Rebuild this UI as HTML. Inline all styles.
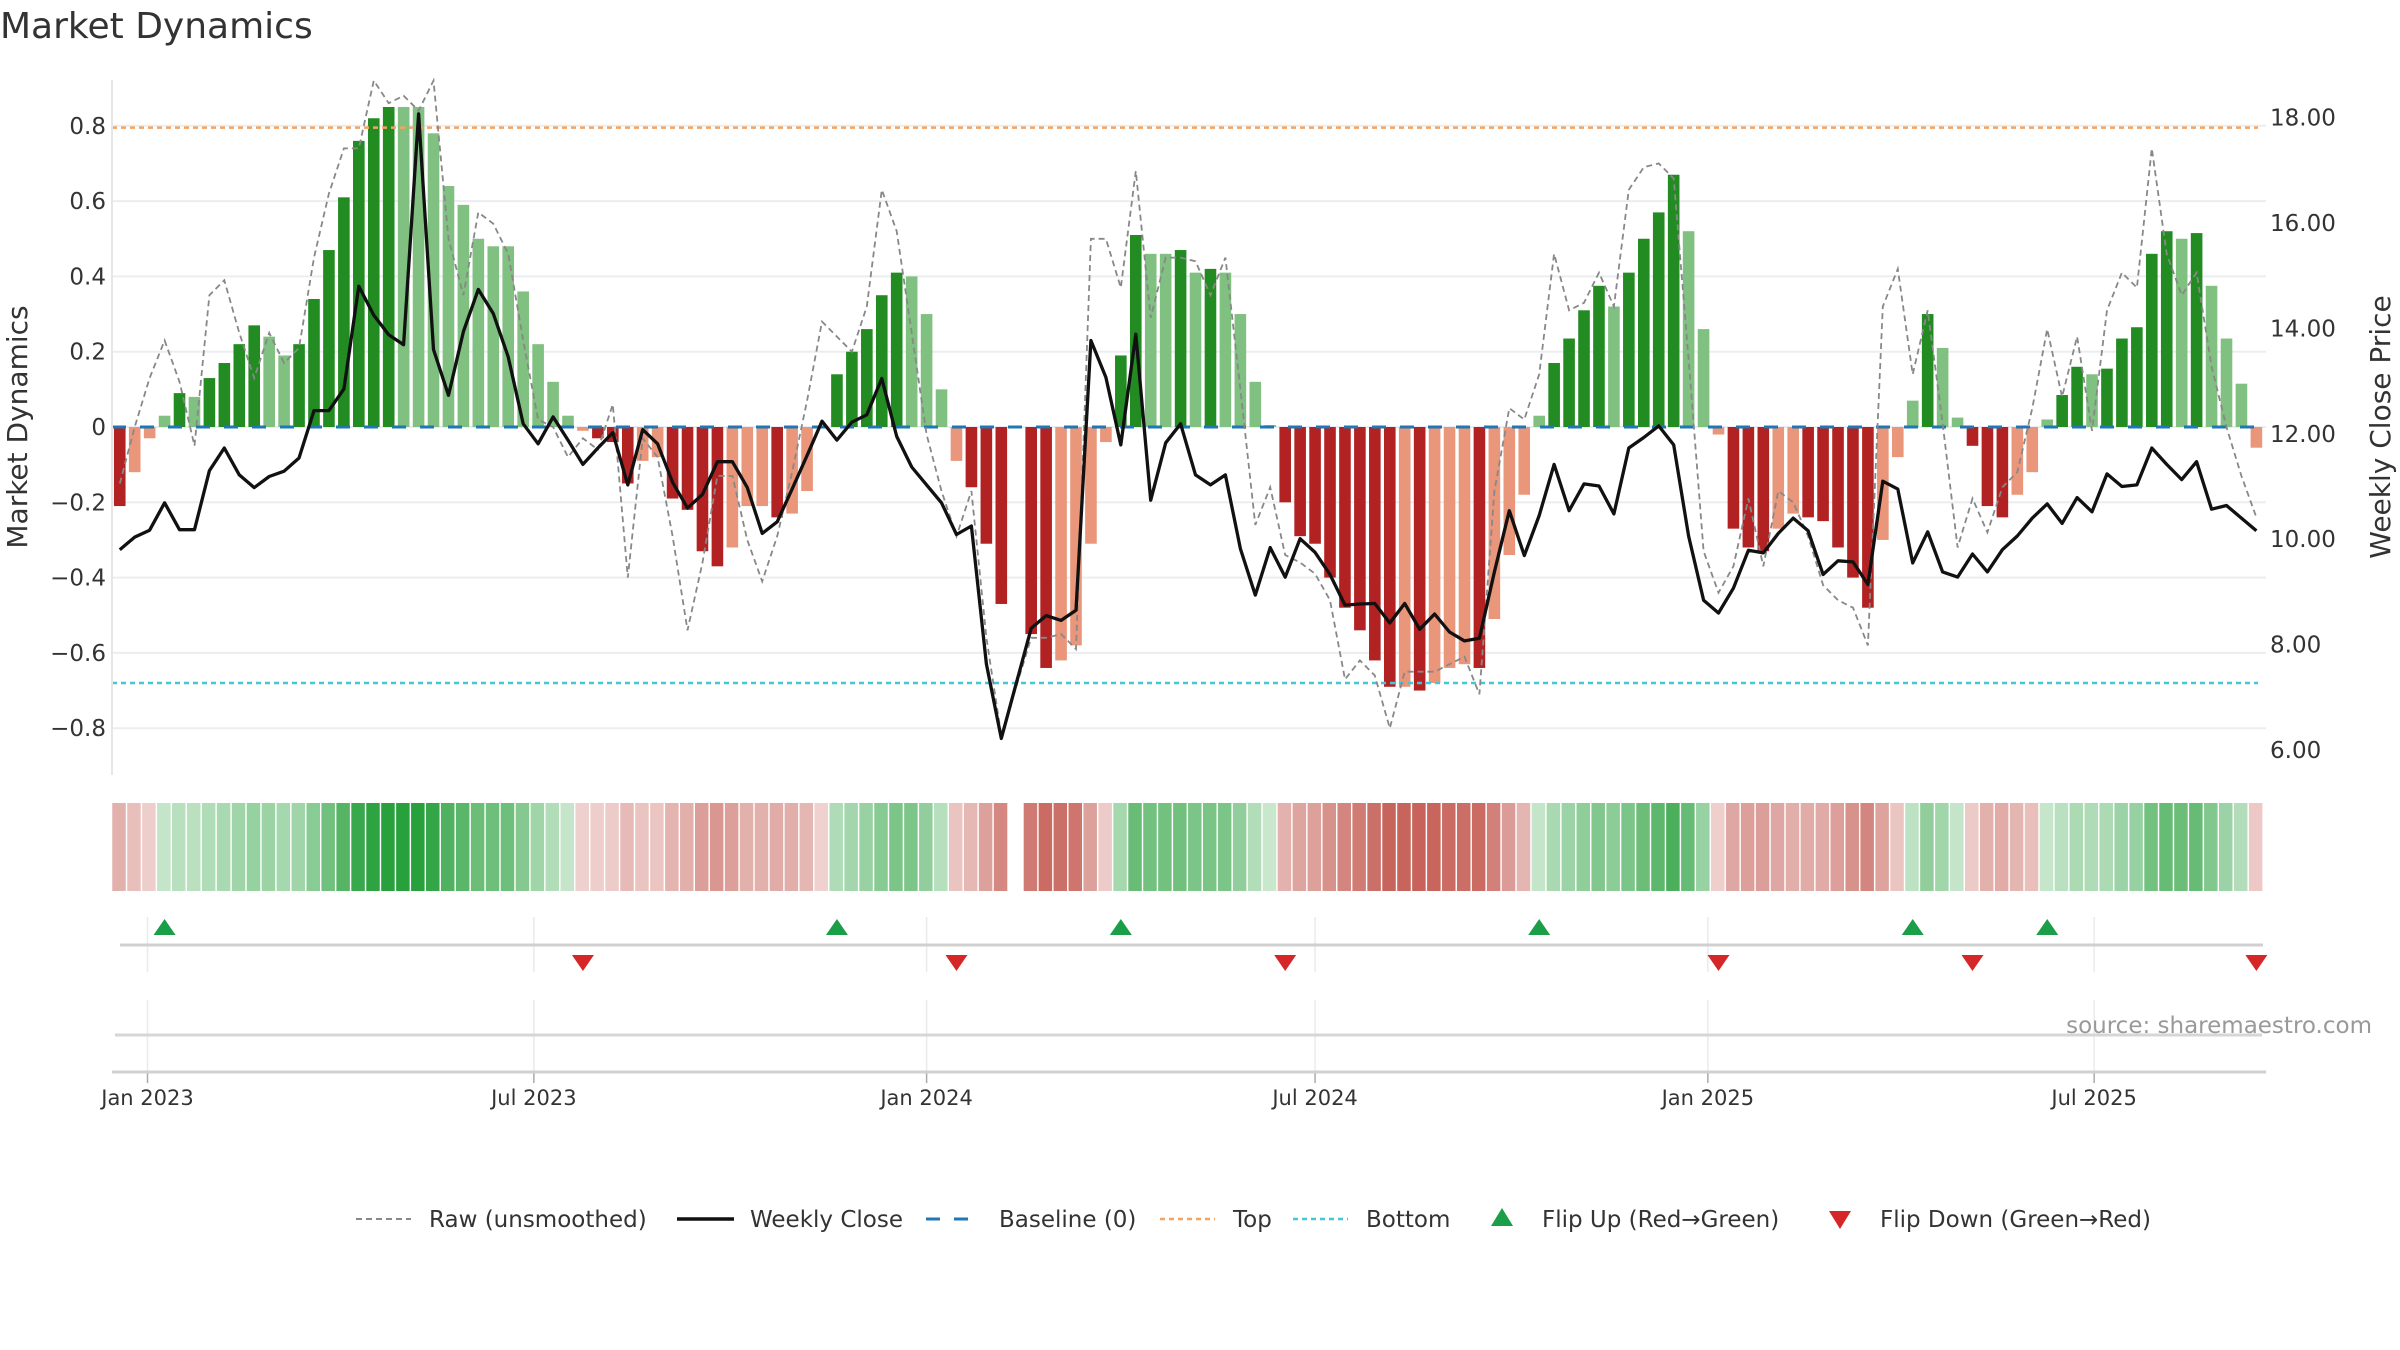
<!DOCTYPE html>
<html><head><meta charset="utf-8"><style>
html,body{margin:0;padding:0;background:#fff;}
svg{display:block;font-family:"DejaVu Sans","Liberation Sans",sans-serif;}
</style></head><body>
<svg id="chart" width="2400" height="1350" viewBox="0 0 2400 1350" xmlns="http://www.w3.org/2000/svg">
<text x="0" y="38" font-size="36" fill="#333">Market Dynamics</text>
<g id="grid"></g><g id="main"></g><g id="heat"></g><g id="flips"></g><g id="axes"></g><g id="legend"></g>
<text x="2372" y="1033" font-size="23" fill="#999" text-anchor="end">source: sharemaestro.com</text>
</svg>
<script>
const momentum=[-0.21,-0.12,-0.03,0.03,0.09,0.08,0.13,0.17,0.22,0.27,0.24,0.19,0.22,0.34,0.47,0.61,0.76,0.82,0.85,0.85,0.85,0.78,0.64,0.59,0.50,0.48,0.48,0.36,0.22,0.12,0.03,-0.01,-0.03,-0.04,-0.15,-0.09,-0.08,-0.19,-0.22,-0.33,-0.37,-0.32,-0.21,-0.21,-0.24,-0.23,-0.17,0,0.14,0.20,0.26,0.35,0.41,0.40,0.30,0.10,-0.09,-0.16,-0.31,-0.47,null,-0.55,-0.64,-0.62,-0.58,-0.31,-0.04,0.19,0.51,0.46,0.46,0.47,0.41,0.42,0.41,0.30,0.12,0.005,-0.20,-0.29,-0.31,-0.40,-0.48,-0.54,-0.62,-0.69,-0.69,-0.70,-0.68,-0.64,-0.63,-0.64,-0.51,-0.34,-0.18,0.03,0.17,0.235,0.31,0.375,0.32,0.41,0.50,0.57,0.67,0.52,0.26,-0.02,-0.27,-0.32,-0.33,-0.27,-0.23,-0.24,-0.25,-0.32,-0.40,-0.48,-0.30,-0.08,0.07,0.30,0.21,0.025,-0.05,-0.21,-0.24,-0.18,-0.12,0.02,0.085,0.16,0.14,0.155,0.235,0.265,0.46,0.52,0.50,0.515,0.375,0.235,0.115,-0.055];
const rawValues=[-0.15,0.0,0.13,0.23,0.12,-0.05,0.35,0.39,0.25,0.13,0.25,0.17,0.21,0.45,0.62,0.74,0.74,0.92,0.86,0.88,0.84,0.92,0.5,0.35,0.57,0.54,0.46,0.23,0.02,0.0,-0.08,-0.03,-0.06,0.06,-0.40,-0.03,-0.08,-0.29,-0.54,-0.36,-0.13,-0.13,-0.30,-0.41,-0.29,-0.12,0.07,0.28,0.24,0.2,0.32,0.63,0.52,0.25,-0.02,-0.17,-0.29,-0.17,-0.56,-0.82,null,-0.56,-0.56,-0.55,-0.59,0.50,0.50,0.37,0.68,0.29,0.45,0.45,0.44,0.35,0.45,0.1,-0.26,-0.16,-0.34,-0.36,-0.39,-0.46,-0.67,-0.62,-0.66,-0.80,-0.65,-0.65,-0.65,-0.63,-0.61,-0.71,-0.17,0.05,0.02,0.14,0.46,0.31,0.33,0.41,0.32,0.63,0.69,0.70,0.66,0.18,-0.33,-0.44,-0.37,-0.19,-0.37,-0.17,-0.20,-0.29,-0.42,-0.46,-0.48,-0.58,0.32,0.42,0.14,0.31,0.01,-0.32,-0.19,-0.28,-0.16,-0.12,0.05,0.26,0.08,0.24,-0.01,0.31,0.41,0.37,0.74,0.46,0.35,0.41,0.16,0.0,-0.13,-0.24];
const closePrices=[9.80,10.04,10.17,10.69,10.18,10.18,11.30,11.73,11.22,10.98,11.19,11.29,11.54,12.44,12.44,12.85,14.80,14.25,13.88,13.69,18.07,13.60,12.73,13.94,14.74,14.28,13.46,12.19,11.81,12.32,11.88,11.42,11.73,12.02,11.03,12.08,11.81,11.08,10.59,10.85,11.47,11.47,10.98,10.11,10.33,10.95,11.59,12.24,11.88,12.22,12.36,13.05,11.95,11.37,11.03,10.69,10.09,10.25,7.63,6.22,null,8.31,8.55,8.46,8.65,13.77,13.07,11.79,13.89,10.74,11.83,12.19,11.22,11.03,11.22,9.82,8.94,9.84,9.28,10.01,9.75,9.33,8.75,8.77,8.78,8.41,8.78,8.29,8.58,8.24,8.07,8.12,9.38,10.54,9.69,10.45,11.42,10.54,11.05,11.01,10.48,11.73,11.93,12.15,11.79,10.06,8.84,8.60,9.07,9.79,9.74,10.11,10.40,10.16,9.33,9.59,9.57,9.14,11.10,10.95,9.55,10.14,9.38,9.28,9.72,9.38,9.80,10.06,10.40,10.67,10.30,10.79,10.52,11.24,11.00,11.03,11.73,11.42,11.13,11.47,10.57,10.64,10.40,10.16];
const leftTicks=[-0.8,-0.6,-0.4,-0.2,0,0.2,0.4,0.6,0.8];
const rightTicks=[6,8,10,12,14,16,18];
const dateTicks=[["Jan 2023","2023-01-01"],["Jul 2023","2023-07-01"],["Jan 2024","2024-01-01"],["Jul 2024","2024-07-01"],["Jan 2025","2025-01-01"],["Jul 2025","2025-07-01"]];
const startDate="2022-12-19";
const topLevel=0.795, bottomLevel=-0.68;

const NS="http://www.w3.org/2000/svg";
function mk(tag,attrs,parent){const e=document.createElementNS(NS,tag);for(const k in attrs)e.setAttribute(k,attrs[k]);parent.appendChild(e);return e;}
const day0=Date.UTC(2023,0,1);
const PXD=2.1345;
function xDate(s){const p=s.split('-');return 147.5+(Date.UTC(+p[0],+p[1]-1,+p[2])-day0)/86400000*PXD;}
const s0=xDate(startDate);
function xi(i){return s0+i*7*PXD;}
function yL(v){return 427-v*376.5;}
function yR(p){return 117.6+(18-p)*52.7;}
const X0=112,X1=2266;
const grid=document.getElementById('grid'),main=document.getElementById('main'),heat=document.getElementById('heat'),flips=document.getElementById('flips'),axes=document.getElementById('axes'),legend=document.getElementById('legend');

leftTicks.forEach(t=>{
  const l=mk('line',{x1:X0,x2:X1,y1:yL(t),y2:yL(t),stroke:'#ebedf0','stroke-width':2},grid);
  
  
  const tx=mk('text',{x:106,y:yL(t)+8,'font-size':23,fill:'#333','text-anchor':'end'},axes);
  tx.textContent=(t===0?'0':(t<0?'\u2212':'')+Math.abs(t).toFixed(1));
  
  
});
rightTicks.forEach(t=>{
  const tx=mk('text',{x:2270,y:yR(t)+8,'font-size':23,fill:'#333'},axes);
  tx.textContent=t.toFixed(2);
  
  
});
const sp=mk('line',{x1:X0,x2:X0,y1:80,y2:775,stroke:'#e6e6e6','stroke-width':2},axes);


const yt=mk('text',{x:0,y:0,'font-size':28,fill:'#333','text-anchor':'middle',transform:'translate(27,427) rotate(-90)'},axes);
yt.textContent='Market Dynamics';


const yt2=mk('text',{x:0,y:0,'font-size':28,fill:'#333','text-anchor':'middle',transform:'translate(2390,427) rotate(-90)'},axes);
yt2.textContent='Weekly Close Price';



momentum.forEach((v,i)=>{
  if(v===null)return;
  const prev=i>0&&momentum[i-1]!==null?momentum[i-1]:0;
  const strong=Math.abs(v)>Math.abs(prev);
  const col=v>=0?(strong?'#228b22':'#80c080'):(strong?'#b22222':'#e9967a');
  const y=Math.min(yL(v),yL(0)),h=Math.abs(yL(v)-yL(0));
  const r=mk('rect',{x:xi(i)-5.8,y:y,width:11.6,height:Math.max(h,0.5),fill:col},main);
  
  
});
const bl=mk('line',{x1:X0,x2:X1,y1:yL(0),y2:yL(0),stroke:'#1f77b4','stroke-width':3,'stroke-dasharray':'14 14'},main);


const tl=mk('line',{x1:X0,x2:X1-8,y1:yL(topLevel),y2:yL(topLevel),stroke:'#f4a460','stroke-width':2.5,'stroke-dasharray':'5 4'},main);


const btl=mk('line',{x1:X0,x2:X1-8,y1:yL(bottomLevel),y2:yL(bottomLevel),stroke:'#40c8d8','stroke-width':2.5,'stroke-dasharray':'5 4'},main);


function pathFrom(arr,yf){let d='',pen=false;arr.forEach((v,i)=>{if(v===null)return;d+=(pen?'L':'M')+xi(i).toFixed(1)+','+yf(v).toFixed(1);pen=true;});return d;}
const rp=mk('path',{d:pathFrom(rawValues,yL),fill:'none',stroke:'#888','stroke-width':1.8,'stroke-dasharray':'6 4'},main);


const cp=mk('path',{d:pathFrom(closePrices,yR),fill:'none',stroke:'#111','stroke-width':3.3,'stroke-linejoin':'round'},main);



momentum.forEach((v,i)=>{
  if(v===null)return;
  const a=0.25+0.75*Math.min(Math.abs(v)/0.85,1);
  const c=v>0?`rgba(40,160,60,${a})`:`rgba(190,75,65,${a})`;
  const r=mk('rect',{x:xi(i)-7.5,y:803,width:13.5,height:88,fill:c},heat);
  
  
});

dateTicks.forEach(([lab,d])=>{
  const x=xDate(d);
  const g1=mk('line',{x1:x,x2:x,y1:917,y2:972,stroke:'#e8eaee','stroke-width':1.5},flips);
  
  
  const g2=mk('line',{x1:x,x2:x,y1:1000,y2:1072,stroke:'#e8eaee','stroke-width':1.5},flips);
  
  
  const tk=mk('line',{x1:x,x2:x,y1:1072,y2:1083,stroke:'#aaa','stroke-width':1.5},axes);
  
  
  const t=mk('text',{x:x,y:1105,'font-size':21,fill:'#333','text-anchor':'middle'},axes);
  t.textContent=lab;
  
  
});
const fl=mk('line',{x1:120,x2:2263,y1:945,y2:945,stroke:'#d0d0d0','stroke-width':3},flips);


const pl=mk('line',{x1:115,x2:2262,y1:1035,y2:1035,stroke:'#d6d6d6','stroke-width':3},flips);


const xa=mk('line',{x1:112,x2:2266,y1:1072,y2:1072,stroke:'#d0d0d0','stroke-width':3},axes);


for(let i=1;i<momentum.length;i++){
  const v=momentum[i];let p=momentum[i-1];if(p===null)p=momentum[i-2];
  if(v===null||p===null)continue;
  const x=xi(i);
  if(p<=0&&v>0){
    const m=mk('polygon',{points:`${x},919 ${x-11},935 ${x+11},935`,fill:'#1a9e47'},flips);
    
    
  } else if(p>0&&v<=0){
    const m=mk('polygon',{points:`${x-11},955 ${x+11},955 ${x},971`,fill:'#d62728'},flips);
    
    
  }
}

const L=[['Raw (unsmoothed)','raw',356],['Weekly Close','close',677],['Baseline (0)','base',926],['Top','top',1160],['Bottom','bottom',1293],['Flip Up (Red\u2192Green)','up',1502],['Flip Down (Green\u2192Red)','down',1840]];
L.forEach(([lab,k,x])=>{
  const y=1219;let s;
  if(k==='raw')s=mk('line',{x1:x,x2:x+55,y1:y,y2:y,stroke:'#888','stroke-width':2,'stroke-dasharray':'6 4'},legend);
  if(k==='close')s=mk('line',{x1:x,x2:x+57,y1:y,y2:y,stroke:'#111','stroke-width':3.5},legend);
  if(k==='base')s=mk('line',{x1:x,x2:x+55,y1:y,y2:y,stroke:'#1f77b4','stroke-width':3,'stroke-dasharray':'14 14'},legend);
  if(k==='top')s=mk('line',{x1:x,x2:x+55,y1:y,y2:y,stroke:'#f4a460','stroke-width':2.5,'stroke-dasharray':'5 4'},legend);
  if(k==='bottom')s=mk('line',{x1:x,x2:x+55,y1:y,y2:y,stroke:'#40c8d8','stroke-width':2.5,'stroke-dasharray':'5 4'},legend);
  if(k==='up')s=mk('polygon',{points:`${x},${y-11} ${x-11},${y+7} ${x+11},${y+7}`,fill:'#1a9e47'},legend);
  if(k==='down')s=mk('polygon',{points:`${x-11},${y-8} ${x+11},${y-8} ${x},${y+10}`,fill:'#d62728'},legend);
  
  
  const tx=mk('text',{x:(k==='up'||k==='down')?x+40:x+73,y:y+8,'font-size':23,fill:'#333'},legend);
  tx.textContent=lab;
  
  
});
</script>
</body></html>
